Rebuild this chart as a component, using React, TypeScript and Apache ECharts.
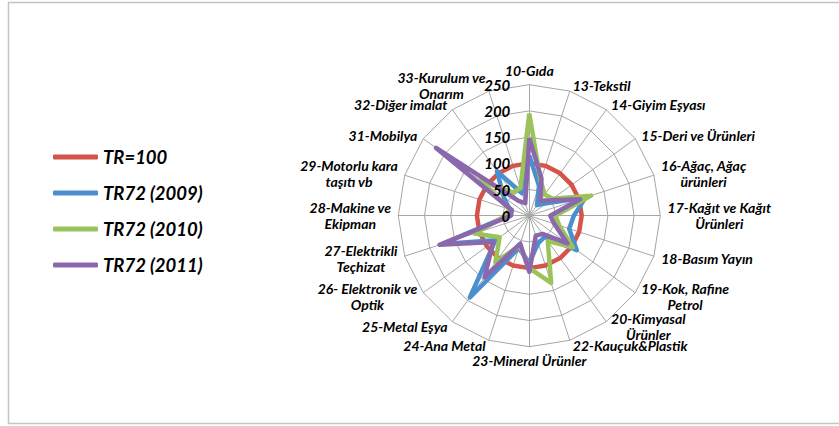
import React, { useEffect, useRef } from "react";
import * as echarts from "echarts";

const categories = [
  "10-Gıda",
  "13-Tekstil",
  "14-Giyim Eşyası",
  "15-Deri ve Ürünleri",
  "16-Ağaç, Ağaç\nürünleri",
  "17-Kağıt ve Kağıt\nÜrünleri",
  "18-Basım Yayın",
  "19-Kok, Rafine\nPetrol",
  "20-Kimyasal\nÜrünler",
  "22-Kauçuk&Plastik",
  "23-Mineral Ürünler",
  "24-Ana Metal",
  "25-Metal Eşya",
  "26- Elektronik ve\nOptik",
  "27-Elektrikli\nTeçhizat",
  "28-Makine ve\nEkipman",
  "29-Motorlu kara\ntaşıtı vb",
  "31-Mobilya",
  "32-Diğer imalat",
  "33-Kurulum ve\nOnarım",
];

const axisMin = 0;
const axisMax = 250;
const axisInterval = 50;

const seriesNames = ["TR=100", "TR72 (2009)", "TR72 (2010)", "TR72 (2011)"];

const tr100 = [100, 100, 100, 100, 100, 100, 100, 100, 100, 100, 100, 100, 100, 100, 100, 100, 100, 100, 100, 100];
const tr72_2009 = [115, 60, 25, 40, 113, 85, 80, 112, 50, 55, 90, 65, 193, 80, 175, 40, 40, 60, 105, 45];
const tr72_2010 = [195, 70, 50, 55, 124, 50, 60, 103, 60, 135, 100, 60, 110, 70, 110, 45, 40, 115, 55, 55];
const tr72_2011 = [148, 75, 36, 50, 102, 40, 50, 90, 43, 40, 107, 56, 145, 85, 180, 35, 35, 220, 35, 25];

const seriesColors = ["#d4534b", "#4b8fce", "#9cc35a", "#8b67ad"];

export default function App() {
  const ref = useRef<HTMLDivElement>(null);

  useEffect(() => {
    document.body.style.margin = "0";
    const el = ref.current!;
    const chart = echarts.init(el, null, { renderer: "svg" });

    const fontFamily = "Lato, 'Open Sans', sans-serif";
    const nameSize = 14;
    const n = categories.length;
    const cx = 529.3;
    const cy = 215.7;
    const radius = 131;
    // Excel draws clockwise; ECharts radar goes counter-clockwise -> reorder
    const order = [0];
    for (let k = n - 1; k >= 1; k--) order.push(k);

    const canvas = document.createElement("canvas");
    const ctx = canvas.getContext("2d")!;
    ctx.font = `italic bold ${nameSize}px Lato`;
    const rich: Record<string, any> = {};
    categories.forEach((c, i) => {
      const w = Math.max(...c.split("\n").map((l) => ctx.measureText(l).width));
      rich["n" + i] = {
        width: Math.ceil(w) + 2,
        align: "center",
        fontFamily,
        fontSize: nameSize,
        fontWeight: "bold",
        fontStyle: "italic",
        color: "#000",
        lineHeight: 16,
      };
    });

    const indicator = order.map((i) => ({ name: categories[i], min: axisMin, max: axisMax }));

    const allSeries = [tr100, tr72_2009, tr72_2010, tr72_2011];

    chart.setOption({
      animation: false,
      backgroundColor: "#ffffff",
      graphic: [
        {
          type: "rect",
          z: -1,
          shape: { x: 8.5, y: 2.5, width: 840, height: 421 },
          style: { fill: "transparent", stroke: "#c4c4c4", lineWidth: 1.5 },
        },
      ],
      legend: {
        data: seriesNames,
        orient: "vertical",
        left: 48,
        top: 142,
        itemWidth: 45,
        itemHeight: 5,
        itemGap: 16,
        icon: "roundRect",
        textStyle: {
          fontFamily,
          fontSize: 18.5,
          fontWeight: "bold",
          fontStyle: "italic",
          color: "#000",
          lineHeight: 20,
        },
      },
      // value scale shown along the first (top) spoke
      grid: {
        left: cx,
        top: cy - radius,
        width: 1,
        height: radius,
        show: false,
      },
      xAxis: { type: "value", show: false, min: 0, max: 1 },
      yAxis: {
        type: "value",
        z: 10,
        min: axisMin,
        max: axisMax,
        interval: axisInterval,
        axisLine: { show: false },
        axisTick: { show: false },
        splitLine: { show: false },
        axisLabel: {
          margin: 19,
          fontFamily,
          fontSize: 15,
          fontWeight: "bold",
          fontStyle: "italic",
          color: "#000",
          padding: [5, 0, 0, 0],
          showMinLabel: true,
          showMaxLabel: true,
        },
      },
      radar: {
        center: [cx, cy],
        radius,
        startAngle: 90,
        shape: "polygon",
        splitNumber: (axisMax - axisMin) / axisInterval,
        indicator,
        nameGap: 6,
        axisName: {
          color: "#000",
          fontFamily,
          fontSize: nameSize,
          fontWeight: "bold",
          fontStyle: "italic",
          formatter: (name: string) => {
            const idx = categories.indexOf(name);
            return name
              .split("\n")
              .map((l) => `{n${idx}|${l}}`)
              .join("\n");
          },
          rich,
        },
        axisLine: { lineStyle: { color: "#a6a6a6", width: 1 } },
        splitLine: { lineStyle: { color: "#a6a6a6", width: 1 } },
        splitArea: { show: false },
        axisTick: { show: false },
        axisLabel: { show: false },
      },
      series: [
        {
          type: "radar",
          z: 2,
          symbol: "none",
          data: allSeries.map((vals, s) => ({
            name: seriesNames[s],
            value: order.map((i) => vals[i]),
            lineStyle: { color: seriesColors[s], width: 4.5 },
            itemStyle: { color: seriesColors[s] },
          })),
        },
      ],
    });

    return () => chart.dispose();
  }, []);

  return (
    <div
      ref={ref}
      style={{ position: "absolute", left: 0, top: 0, width: 839, height: 426 }}
    />
  );
}
